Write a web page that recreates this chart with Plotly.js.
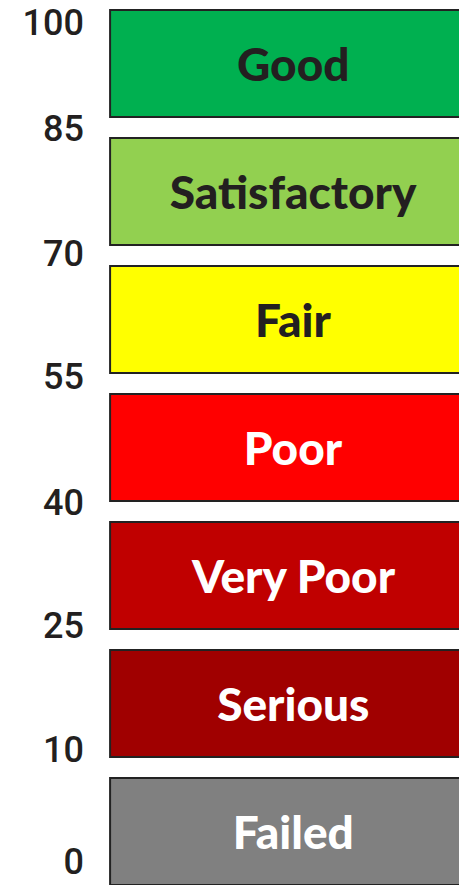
<!DOCTYPE html>
<html>
<head>
<meta charset="utf-8">
<script src="https://cdn.plot.ly/plotly-3.0.1.min.js"></script>
<style>
  html, body { margin: 0; padding: 0; background: #ffffff; }
  #chart { width: 459px; height: 885px; }
</style>
</head>
<body>
<div id="chart"></div>
<script>
// Condition categories, top to bottom
const categories = ["Good", "Satisfactory", "Fair", "Poor", "Very Poor", "Serious", "Failed"];
const lowerBounds = [85, 70, 55, 40, 25, 10, 0];
const upperBounds = [100, 85, 70, 55, 40, 25, 10];
const bandColors = ["#00b050", "#92d050", "#ffff00", "#ff0000", "#c00000", "#a00000", "#808080"];
const labelColors = ["#231f20", "#231f20", "#231f20", "#ffffff", "#ffffff", "#ffffff", "#ffffff"];
// Score tick labels, top to bottom
const tickLabels = ["100", "85", "70", "55", "40", "25", "10", "0"];

// Layout: vertical positions of the score labels (axis units)
const tickPositions = [6.324, 5.496, 4.520, 3.559, 2.574, 1.613, 0.645, -0.236];

const n = categories.length;
const yPos = categories.map((c, i) => n - 1 - i);
const bandLength = categories.map(() => 1.05);

const trace = {
  type: "bar",
  orientation: "h",
  y: yPos,
  x: bandLength,
  base: 0,
  width: 0.836,
  text: categories,
  customdata: categories.map((c, i) => lowerBounds[i] + "–" + upperBounds[i]),
  hovertemplate: "%{text}: %{customdata}<extra></extra>",
  textposition: "inside",
  insidetextanchor: "middle",
  textangle: 0,
  constraintext: "none",
  textfont: { family: "Lato, 'DejaVu Sans', sans-serif", size: 46, weight: 900, color: labelColors },
  marker: { color: bandColors, line: { color: "#222222", width: 2 } }
};

const layout = {
  width: 459,
  height: 885,
  margin: { l: 108, r: 0, t: 0, b: 0, pad: 0 },
  paper_bgcolor: "#ffffff",
  plot_bgcolor: "#ffffff",
  showlegend: false,
  xaxis: { range: [-0.006, 1], visible: false, fixedrange: true },
  yaxis: {
    range: [-0.418, 6.496],
    tickmode: "array",
    tickvals: tickPositions,
    ticktext: tickLabels,
    ticks: "",
    ticklabelstandoff: 23,
    ticklabeloverflow: "allow",
    showgrid: false,
    zeroline: false,
    showline: false,
    fixedrange: true,
    tickfont: { family: "Roboto, 'Liberation Sans', Arial, sans-serif", size: 36, weight: 500, color: "#231f20" }
  }
};

Plotly.newPlot("chart", [trace], layout, { displayModeBar: false, staticPlot: true });
</script>
</body>
</html>
